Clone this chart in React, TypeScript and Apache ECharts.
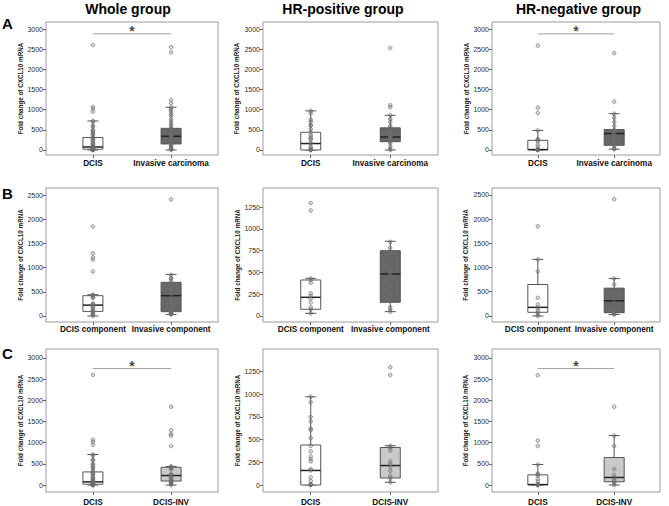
import { useEffect, useRef } from "react";
import * as echarts from "echarts";

const FONT = "'Liberation Sans', Arial, Helvetica, sans-serif";

// ---------- text ----------
const columnTitles = ["Whole group", "HR-positive group", "HR-negative group"];
const rowLetters = ["A", "B", "C"];
const catsA = ["DCIS", "Invasive carcinoma"];
const catsB = ["DCIS component", "Invasive component"];
const catsC = ["DCIS", "DCIS-INV"];
const yAxisName = "Fold change of CXCL10 mRNA";

// ---------- tick labels ----------
const ticks3000 = [0, 500, 1000, 1500, 2000, 2500, 3000];
const ticks2500 = [0, 500, 1000, 1500, 2000, 2500];
const ticks1250 = [0, 250, 500, 750, 1000, 1250];

// ---------- box statistics [lower whisker, Q1, median, Q3, upper whisker] ----------
const boxWholeDCIS = [0, 20, 75, 310, 720];
const boxWholeInv = [0, 150, 340, 537, 1060];
const boxHrPosDCIS = [0, 0, 160, 440, 970];
const boxHrPosInv = [0, 206, 322, 550, 860];
const boxHrNegDCIS = [0, 8, 10, 240, 485];
const boxHrNegInv = [20, 117, 408, 507, 900];
const boxWholeDCISComp = [0, 95, 225, 420, 440];
const boxWholeInvComp = [30, 89, 420, 696, 860];
const boxHrPosDCISComp = [30, 77, 214, 413, 432];
const boxHrPosInvComp = [50, 157, 482, 749, 857];
const boxHrNegDCISComp = [0, 76, 178, 650, 1168];
const boxHrNegInvComp = [30, 68, 314, 574, 772];

// ---------- individual values ----------
const ptsWholeDCIS = [0, 0, 0, 5, 5, 10, 10, 15, 20, 25, 30, 40, 50, 60, 75, 80, 90, 110, 140, 160, 175, 220, 250, 270, 290, 315, 370, 410, 430, 480, 500, 580, 605, 700, 720, 950, 1020, 1070, 2600];
const ptsWholeInv = [0, 15, 35, 60, 90, 120, 150, 165, 200, 230, 250, 275, 300, 320, 340, 355, 380, 410, 430, 455, 480, 500, 520, 540, 590, 640, 700, 760, 850, 900, 960, 1010, 1060, 1160, 1240, 2420, 2550];
const ptsHrPosDCIS = [0, 0, 5, 10, 45, 85, 160, 175, 260, 285, 315, 370, 430, 515, 605, 620, 700, 750, 910, 970];
const ptsHrPosInv = [0, 25, 80, 165, 210, 250, 280, 300, 320, 335, 360, 410, 450, 500, 550, 600, 700, 770, 860, 1060, 1110, 2530];
const ptsHrNegDCIS = [0, 0, 0, 5, 10, 20, 80, 140, 220, 250, 270, 485, 920, 1050, 2590];
const ptsHrNegInv = [20, 30, 60, 120, 200, 280, 350, 400, 420, 480, 510, 600, 700, 800, 900, 1200, 2400];
const ptsWholeDCISComp = [0, 30, 35, 75, 75, 100, 115, 155, 170, 200, 230, 240, 260, 375, 380, 410, 430, 440, 920, 1165, 1210, 1295, 1850];
const ptsWholeInvComp = [30, 40, 50, 55, 75, 90, 100, 230, 270, 335, 360, 455, 480, 500, 510, 535, 650, 710, 770, 780, 850, 2410];
const ptsHrPosDCISComp = [30, 75, 100, 155, 200, 230, 260, 380, 410, 430, 1210, 1295];
const ptsHrPosInvComp = [50, 75, 100, 230, 335, 455, 480, 510, 535, 710, 780, 850];
const ptsHrNegDCISComp = [0, 35, 75, 115, 170, 240, 375, 920, 1165, 1850];
const ptsHrNegInvComp = [30, 40, 55, 90, 270, 360, 500, 650, 770, 2410];

// significance bar heights (value units), null when absent
const sigA = [2880, null, 2880];
const sigB = [null, null, null];
const sigC = [2750, null, 2750];

// ---------- layout / style ----------
const colLeft = [46, 263, 492];
const colWidth = [172, 175, 168];
const rowTop = [22, 188, 349];
const rowHeight = [133, 134, 144];
const xLabelMargin = [4, 3, 6];
const nameGaps = [
  [20, 24, 22],
  [22, 23, 24],
  [22, 23, 24],
];
const FILL_DCIS = "#ffffff";
const FILL_INV = "#676767";
const FILL_MIX = "#c9c9c9";
const FRAME = "#9c9c9c";
const TICK = "#666666";

type Panel = {
  row: number;
  col: number;
  cats: string[];
  yMin: number;
  yMax: number;
  ticks: number[];
  boxes: number[][];
  points: number[][];
  fills: string[];
  sig: number | null;
};

const panels: Panel[] = [
  { row: 0, col: 0, cats: catsA, yMin: -124, yMax: 3174, ticks: ticks3000, boxes: [boxWholeDCIS, boxWholeInv], points: [ptsWholeDCIS, ptsWholeInv], fills: [FILL_DCIS, FILL_INV], sig: sigA[0] },
  { row: 0, col: 1, cats: catsA, yMin: -124, yMax: 3174, ticks: ticks3000, boxes: [boxHrPosDCIS, boxHrPosInv], points: [ptsHrPosDCIS, ptsHrPosInv], fills: [FILL_DCIS, FILL_INV], sig: sigA[1] },
  { row: 0, col: 2, cats: catsA, yMin: -124, yMax: 3174, ticks: ticks3000, boxes: [boxHrNegDCIS, boxHrNegInv], points: [ptsHrNegDCIS, ptsHrNegInv], fills: [FILL_DCIS, FILL_INV], sig: sigA[2] },
  { row: 1, col: 0, cats: catsB, yMin: -124, yMax: 2645, ticks: ticks2500, boxes: [boxWholeDCISComp, boxWholeInvComp], points: [ptsWholeDCISComp, ptsWholeInvComp], fills: [FILL_DCIS, FILL_INV], sig: sigB[0] },
  { row: 1, col: 1, cats: catsB, yMin: -69, yMax: 1468, ticks: ticks1250, boxes: [boxHrPosDCISComp, boxHrPosInvComp], points: [ptsHrPosDCISComp, ptsHrPosInvComp], fills: [FILL_DCIS, FILL_INV], sig: sigB[1] },
  { row: 1, col: 2, cats: catsB, yMin: -124, yMax: 2640, ticks: ticks2500, boxes: [boxHrNegDCISComp, boxHrNegInvComp], points: [ptsHrNegDCISComp, ptsHrNegInvComp], fills: [FILL_DCIS, FILL_INV], sig: sigB[2] },
  { row: 2, col: 0, cats: catsC, yMin: -164, yMax: 3211, ticks: ticks3000, boxes: [boxWholeDCIS, boxWholeDCISComp], points: [ptsWholeDCIS, ptsWholeDCISComp], fills: [FILL_DCIS, FILL_MIX], sig: sigC[0] },
  { row: 2, col: 1, cats: catsC, yMin: -77, yMax: 1496, ticks: ticks1250, boxes: [boxHrPosDCIS, boxHrPosDCISComp], points: [ptsHrPosDCIS, ptsHrPosDCISComp], fills: [FILL_DCIS, FILL_MIX], sig: sigC[1] },
  { row: 2, col: 2, cats: catsC, yMin: -165, yMax: 3212, ticks: ticks3000, boxes: [boxHrNegDCIS, boxHrNegDCISComp], points: [ptsHrNegDCIS, ptsHrNegDCISComp], fills: [FILL_DCIS, FILL_MIX], sig: sigC[2] },
];

function buildOption() {
  const grids: any[] = [];
  const xAxes: any[] = [];
  const yAxes: any[] = [];
  const series: any[] = [];

  panels.forEach((p, i) => {
    grids.push({
      left: colLeft[p.col],
      top: rowTop[p.row],
      width: colWidth[p.col],
      height: rowHeight[p.row],
      show: true,
      borderColor: FRAME,
      borderWidth: 1,
      backgroundColor: "transparent",
    });
    xAxes.push({
      gridIndex: i,
      type: "value",
      min: -0.6,
      max: 1.6,
      splitLine: { show: false },
      axisLine: { show: false, onZero: false, lineStyle: { color: TICK } },
      axisTick: { show: true, customValues: [0, 1], length: 3, lineStyle: { color: TICK, width: 1 } },
      axisLabel: {
        customValues: [0, 1],
        formatter: (v: number) => p.cats[Math.round(v)] ?? "",
        fontSize: 8.2,
        fontWeight: "bold",
        fontFamily: FONT,
        color: "#111",
        margin: xLabelMargin[p.row],
      },
    });
    yAxes.push({
      gridIndex: i,
      type: "value",
      min: p.yMin,
      max: p.yMax,
      splitLine: { show: false },
      axisLine: { show: false, onZero: false, lineStyle: { color: TICK } },
      axisTick: { show: true, customValues: p.ticks, length: 3, lineStyle: { color: TICK, width: 1 } },
      axisLabel: {
        customValues: p.ticks,
        formatter: (v: number) => String(v),
        fontSize: 7,
        fontFamily: FONT,
        color: "#2a2a2a",
        margin: 3,
      },
      name: yAxisName,
      nameLocation: "middle",
      nameGap: nameGaps[p.row][p.col],
      nameTextStyle: { fontSize: 6.3, fontWeight: "bold", fontFamily: FONT, color: "#222" },
    });

    const fills = p.fills;
    series.push({
      type: "custom",
      xAxisIndex: i,
      yAxisIndex: i,
      z: 2,
      encode: { x: 0, y: [1, 2, 3, 4, 5] },
      data: p.boxes.map((b, k) => [k, ...b]),
      renderItem: (params: any, api: any) => {
        const k = api.value(0);
        const lo = api.coord([k, api.value(1)]);
        const q1 = api.coord([k, api.value(2)]);
        const md = api.coord([k, api.value(3)]);
        const q3 = api.coord([k, api.value(4)]);
        const hi = api.coord([k, api.value(5)]);
        const cx = lo[0];
        const hw = 10;
        const cw = 5.5;
        const stroke = "#555";
        return {
          type: "group",
          children: [
            { type: "line", shape: { x1: cx, y1: q3[1], x2: cx, y2: hi[1] }, style: { stroke, lineWidth: 1 } },
            { type: "line", shape: { x1: cx, y1: q1[1], x2: cx, y2: lo[1] }, style: { stroke, lineWidth: 1 } },
            { type: "line", shape: { x1: cx - cw, y1: hi[1], x2: cx + cw, y2: hi[1] }, style: { stroke, lineWidth: 1 } },
            { type: "line", shape: { x1: cx - cw, y1: lo[1], x2: cx + cw, y2: lo[1] }, style: { stroke, lineWidth: 1 } },
            {
              type: "rect",
              shape: { x: cx - hw, y: q3[1], width: hw * 2, height: Math.max(q1[1] - q3[1], 0.5) },
              style: { fill: fills[k], stroke, lineWidth: 1 },
            },
            { type: "line", shape: { x1: cx - hw, y1: md[1], x2: cx + hw, y2: md[1] }, style: { stroke: "#222", lineWidth: 1.5 } },
          ],
        };
      },
    });

    series.push({
      type: "scatter",
      xAxisIndex: i,
      yAxisIndex: i,
      z: 3,
      symbol: "circle",
      symbolSize: 3.6,
      itemStyle: { color: "rgba(120,120,120,0.35)", borderColor: "#6a6a6a", borderWidth: 0.8 },
      data: p.points.flatMap((arr, k) => arr.map((v) => [k, v])),
    });

    if (p.sig !== null) {
      series.push({
        type: "line",
        xAxisIndex: i,
        yAxisIndex: i,
        z: 2,
        symbol: "none",
        lineStyle: { color: "#a0a0a0", width: 1 },
        data: [
          [0, p.sig],
          [1, p.sig],
        ],
      });
      series.push({
        type: "scatter",
        xAxisIndex: i,
        yAxisIndex: i,
        z: 3,
        symbolSize: 0,
        label: {
          show: true,
          position: "top",
          distance: -4,
          formatter: "*",
          fontSize: 14,
          fontWeight: "bold",
          fontFamily: FONT,
          color: "#111",
        },
        data: [[0.5, p.sig]],
      });
    }
  });

  const graphics: any[] = [];
  const titleX = [128, 343, 578.5];
  columnTitles.forEach((t, c) => {
    graphics.push({
      type: "text",
      x: titleX[c],
      y: 8.5,
      style: { text: t, fontSize: 14, fontWeight: "bold", fontFamily: FONT, fill: "#000", align: "center", verticalAlign: "middle" },
    });
  });
  const letterY = [23.5, 193, 353];
  rowLetters.forEach((t, r) => {
    graphics.push({
      type: "text",
      x: 7.5,
      y: letterY[r],
      style: { text: t, fontSize: 15, fontWeight: "bold", fontFamily: FONT, fill: "#000", align: "center", verticalAlign: "middle" },
    });
  });

  return {
    animation: false,
    backgroundColor: "#ffffff",
    grid: grids,
    xAxis: xAxes,
    yAxis: yAxes,
    series,
    graphic: graphics,
  };
}

export default function App() {
  const ref = useRef<HTMLDivElement>(null);
  useEffect(() => {
    if (!ref.current) return;
    const chart = echarts.init(ref.current, undefined, { renderer: "svg" });
    chart.setOption(buildOption());
    return () => chart.dispose();
  }, []);
  return (
    <div
      ref={ref}
      style={{ position: "absolute", left: 0, top: 0, width: 669, height: 506, background: "#fff" }}
    />
  );
}
